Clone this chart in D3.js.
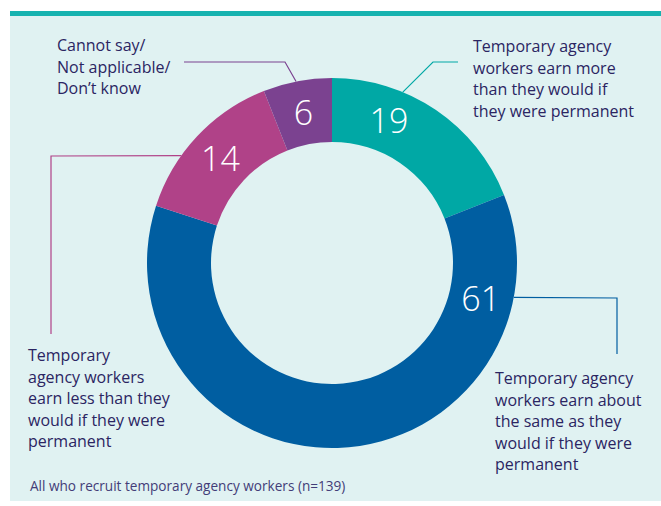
<!DOCTYPE html>
<html>
<head>
<meta charset="utf-8">
<script src="https://cdn.jsdelivr.net/npm/d3@7"></script>
<style>
  html, body { margin: 0; padding: 0; background: #fff; }
  svg { display: block; }
</style>
</head>
<body>
<svg width="661" height="506"></svg>
<script>
// slices, clockwise from 12 o'clock
const categories = ["more", "same", "less", "cannot"];
const values = [19, 61, 14, 6];
const colors = ["#00a8a5", "#005ea1", "#b04288", "#7b4290"];
const labelLines = [
  ["Temporary agency", "workers earn more", "than they would if", "they were permanent"],
  ["Temporary agency", "workers earn about", "the same as they", "would if they were", "permanent"],
  ["Temporary", "agency workers", "earn less than they", "would if they were", "permanent"],
  ["Cannot say/", "Not applicable/", "Don\u2019t know"]
];
const baseNote = "All who recruit temporary agency workers (n=139)";

const width = 661;
const height = 506;
const cx = 332;
const cy = 263;
const outerR = 185;
const innerR = 121;

const svg = d3.select("svg").attr("viewBox", `0 0 ${width} ${height}`);

// panel background + teal rule on top
svg.append("rect")
  .attr("x", 10).attr("y", 16)
  .attr("width", width - 10).attr("height", 485)
  .attr("fill", "#e0f2f2");
svg.append("rect")
  .attr("x", 10).attr("y", 11)
  .attr("width", width - 10).attr("height", 5)
  .attr("fill", "#16b3b0");

const pie = d3.pie().sort(null).value((d) => d);
const arcs = pie(values);

const arc = d3.arc().innerRadius(innerR).outerRadius(outerR);

const g = svg.append("g").attr("transform", `translate(${cx},${cy})`);

g.selectAll("path.slice")
  .data(arcs)
  .join("path")
  .attr("class", "slice")
  .attr("d", arc)
  .attr("fill", (d, i) => colors[i]);

// where along each slice the number sits (0 = start, 1 = end)
const numberAt = [0.32, 0.16, 0.5, 0.5];
const numberR = (innerR + outerR) / 2;

g.selectAll("text.num")
  .data(arcs)
  .join("text")
  .attr("class", "num")
  .attr("x", (d, i) => {
    const a = d.startAngle + (d.endAngle - d.startAngle) * numberAt[i];
    return Math.sin(a) * numberR;
  })
  .attr("y", (d, i) => {
    const a = d.startAngle + (d.endAngle - d.startAngle) * numberAt[i];
    return -Math.cos(a) * numberR;
  })
  .attr("dy", "0.36em")
  .attr("text-anchor", "middle")
  .attr("fill", "#fff")
  .style("font-family", "'Open Sans', sans-serif")
  .style("font-weight", 300)
  .style("font-size", "34px")
  .text((d) => d.data);

// leader lines: leave the ring at a given angle, then run to the label
const leaders = [
  { angle: 22.5, pts: [[433, 62], [458, 62]] },
  { angle: 100.7, pts: [[617, 298], [617, 354]] },
  { angle: 305.5, pts: [[51, 156], [51, 334]] },
  { angle: 348.8, pts: [[285, 62], [184, 62]] }
];

leaders.forEach((l, i) => {
  const a = (l.angle * Math.PI) / 180;
  const start = [cx + Math.sin(a) * outerR, cy - Math.cos(a) * outerR];
  svg.append("path")
    .attr("d", d3.line()([start, ...l.pts]))
    .attr("fill", "none")
    .attr("stroke", colors[i])
    .attr("stroke-width", 1.2);
});

// category labels
const labelPos = [
  { x: 473, y: 52 },
  { x: 495, y: 384 },
  { x: 28, y: 361 },
  { x: 57, y: 51 }
];
const lineH = 21.6;

labelLines.forEach((lines, i) => {
  const t = svg.append("text")
    .attr("x", labelPos[i].x)
    .attr("y", labelPos[i].y)
    .attr("fill", "#2b2562")
    .style("font-family", "'Open Sans', sans-serif")
    .style("font-size", "16px");
  lines.forEach((s, j) => {
    t.append("tspan")
      .attr("x", labelPos[i].x)
      .attr("y", labelPos[i].y + j * lineH)
      .text(s);
  });
});

svg.append("text")
  .attr("x", 30)
  .attr("y", 491)
  .attr("fill", "#433d78")
  .style("font-family", "'Open Sans', sans-serif")
  .style("font-size", "13.6px")
  .text(baseNote);
</script>
</body>
</html>
